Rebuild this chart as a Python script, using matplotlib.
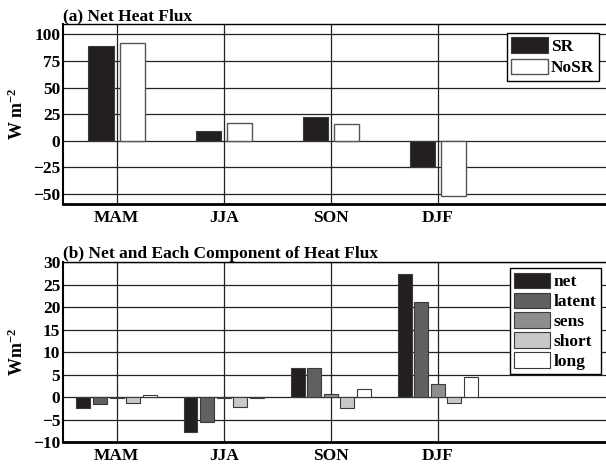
import numpy as np
import matplotlib
matplotlib.use('Agg')
import matplotlib.pyplot as plt

seasons = ['MAM', 'JJA', 'SON', 'DJF']

# panel (a): net heat flux
sr = [89, 9, 22, -25]
nosr = [92, 17, 16, -52]

# panel (b): net and components
net = [-2.4, -7.8, 6.6, 27.4]
latent = [-1.6, -5.5, 6.5, 21.2]
sens = [-0.1, -0.2, 0.7, 2.9]
short = [-1.3, -2.1, -2.5, -1.3]
long_ = [0.5, -0.1, 1.8, 4.5]

plt.rcParams['font.family'] = ['Liberation Serif', 'DejaVu Serif']
plt.rcParams['font.weight'] = 'bold'
plt.rcParams['mathtext.fontset'] = 'custom'
plt.rcParams['mathtext.rm'] = 'Liberation Serif:bold'
plt.rcParams['mathtext.it'] = 'Liberation Serif:bold'
plt.rcParams['mathtext.bf'] = 'Liberation Serif:bold'

fig = plt.figure(figsize=(6.06, 4.65), dpi=100)
ax1 = fig.add_axes([0.104, 0.561, 0.896, 0.387])
ax2 = fig.add_axes([0.104, 0.049, 0.896, 0.387])

x = np.arange(1, 5)
edge = '#3a3a3a'


def style(ax):
    ax.set_xlim(0.5, 5.57)
    ax.set_xticks(x)
    ax.set_xticklabels(seasons)
    ax.grid(True, color='#222222', linewidth=0.9)
    ax.set_axisbelow(True)
    ax.tick_params(axis='both', length=0, labelsize=12.5, pad=2)
    ax.tick_params(axis='x', pad=4)
    for lab in ax.get_xticklabels() + ax.get_yticklabels():
        lab.set_fontweight('bold')
    ax.spines['right'].set_visible(False)
    ax.spines['bottom'].set_linewidth(2.0)
    ax.spines['left'].set_linewidth(1.5)
    ax.spines['top'].set_linewidth(1.0)


# (a)
ax1.bar(x - 0.145, sr, width=0.235, color='#231f20', edgecolor=edge, linewidth=0.8, label='SR', zorder=3)
ax1.bar(x + 0.145, nosr, width=0.235, color='white', edgecolor='#555555', linewidth=1.0, label='NoSR', zorder=3)
ax1.set_ylim(-59.5, 109.5)
ax1.set_yticks([-50, -25, 0, 25, 50, 75, 100])
style(ax1)
ax1.set_ylabel(r'W m$^{-2}$', fontsize=13, fontweight='bold')
ax1.yaxis.set_label_coords(-0.066, 0.5)
ax1.set_title('(a) Net Heat Flux', loc='left', fontsize=12.5, fontweight='bold', pad=3)
leg1 = ax1.legend(loc='upper right', bbox_to_anchor=(0.993, 0.97), fontsize=12.5,
                  frameon=True, fancybox=False, edgecolor='black', framealpha=1,
                  handlelength=2.1, handleheight=1.0, handletextpad=0.2,
                  borderpad=0.25, labelspacing=0.2, borderaxespad=0.2)
leg1.get_frame().set_linewidth(1.0)

# (b)
offs = [-0.31, -0.155, 0.0, 0.155, 0.31]
comps = [net, latent, sens, short, long_]
names = ['net', 'latent', 'sens', 'short', 'long']
cols = ['#231f20', '#606060', '#8e8e8e', '#c8c8c8', 'white']
for o, v, n, c in zip(offs, comps, names, cols):
    ax2.bar(x + o, v, width=0.13, color=c, edgecolor=edge, linewidth=0.8, label=n, zorder=3)
ax2.set_ylim(-10, 30)
ax2.set_yticks(np.arange(-10, 31, 5))
style(ax2)
ax2.set_ylabel(r'Wm$^{-2}$', fontsize=13, fontweight='bold')
ax2.yaxis.set_label_coords(-0.066, 0.5)
ax2.set_title('(b) Net and Each Component of Heat Flux', loc='left', fontsize=12.5,
              fontweight='bold', pad=3)
leg2 = ax2.legend(loc='upper right', bbox_to_anchor=(0.997, 0.985), fontsize=12.5,
                  frameon=True, fancybox=False, edgecolor='black', framealpha=1,
                  handlelength=2.1, handleheight=1.0, handletextpad=0.2,
                  borderpad=0.25, labelspacing=0.12, borderaxespad=0.2)
leg2.get_frame().set_linewidth(1.0)

fig.savefig('out.png', dpi=100)
